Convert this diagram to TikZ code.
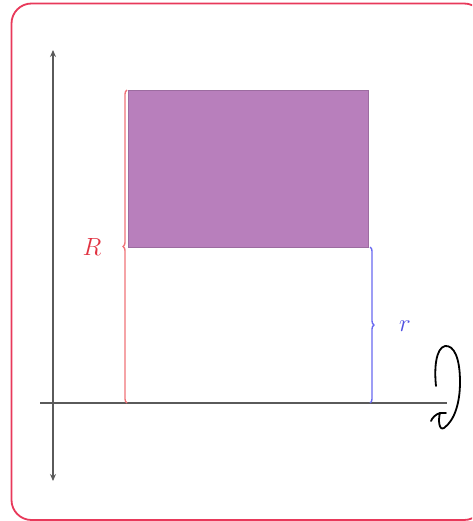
\documentclass[tikz,border=0pt]{standalone}
\usetikzlibrary{decorations.pathreplacing,arrows.meta}
\definecolor{frame}{RGB}{232,57,90}
\definecolor{axisgray}{RGB}{90,90,90}
\definecolor{purp}{RGB}{184,127,188}
\definecolor{bracered}{RGB}{240,115,120}
\definecolor{labelred}{RGB}{225,50,65}
\definecolor{braceblue}{RGB}{105,105,240}
\definecolor{labelblue}{RGB}{80,80,225}
\tikzset{
  axis/.style={draw=axisgray, line width=1.5pt},
  bracedeco/.style={decorate, decoration={brace, amplitude=4pt}, line width=1.4pt},
  lbl/.style={font=\fontsize{24}{28}\selectfont, inner sep=0pt}
}
\begin{document}
\begin{tikzpicture}[x=1pt,y=-1pt]
\useasboundingbox (0,0) rectangle (472,521);
\clip (0,0) rectangle (472,521);
% frame
\draw[frame, line width=1.8pt, rounded corners=20pt] (11.5,3.5) rectangle (484,520);
% purple rectangle
\node[fill=purp, draw=purp!85!black, line width=0.5pt, minimum width=240pt, minimum height=157pt, inner sep=0pt, outer sep=0pt] (box) at (248,168.5) {};
\coordinate (rtop) at (127,90);
\coordinate (rbot) at (127,403);
\coordinate (btop) at (370,247);
\coordinate (bbot) at (370,403);
\coordinate (ytop) at (53,50);
\coordinate (ybot) at (53,481);
\coordinate (orig) at (53,403);
\coordinate (xleft) at (40,403);
\coordinate (xright) at (447,403);
% axes
\draw[axis, -{Stealth[length=7pt,width=6pt]}] (orig) -- (ytop);
\draw[axis, -{Stealth[length=7pt,width=6pt]}] (orig) -- (ybot);
\draw[axis] (xleft) -- (xright);
% braces
\draw[bracedeco, bracered] (rbot) -- (rtop);
\draw[bracedeco, braceblue] (btop) -- (bbot);
% labels
\node[lbl, text=labelred] (R) at (92,247) {$R$};
\node[lbl, text=labelblue] (r) at (405,326) {$r$};
% hand-drawn loop
\draw[black, line width=1.8pt, line cap=round, line join=round]
  (436,386) .. controls (434,368) and (436,348) .. (445,346)
  .. controls (454,345) and (460,358) .. (460,382)
  .. controls (460,402) and (455,420) .. (444,428)
  .. controls (439,431) and (438,420) .. (440,413)
  .. controls (436,414) and (432,418) .. (431,421);
\draw[black, line width=1.8pt, line cap=round] (440,413) -- (446,413);
\end{tikzpicture}
\end{document}
